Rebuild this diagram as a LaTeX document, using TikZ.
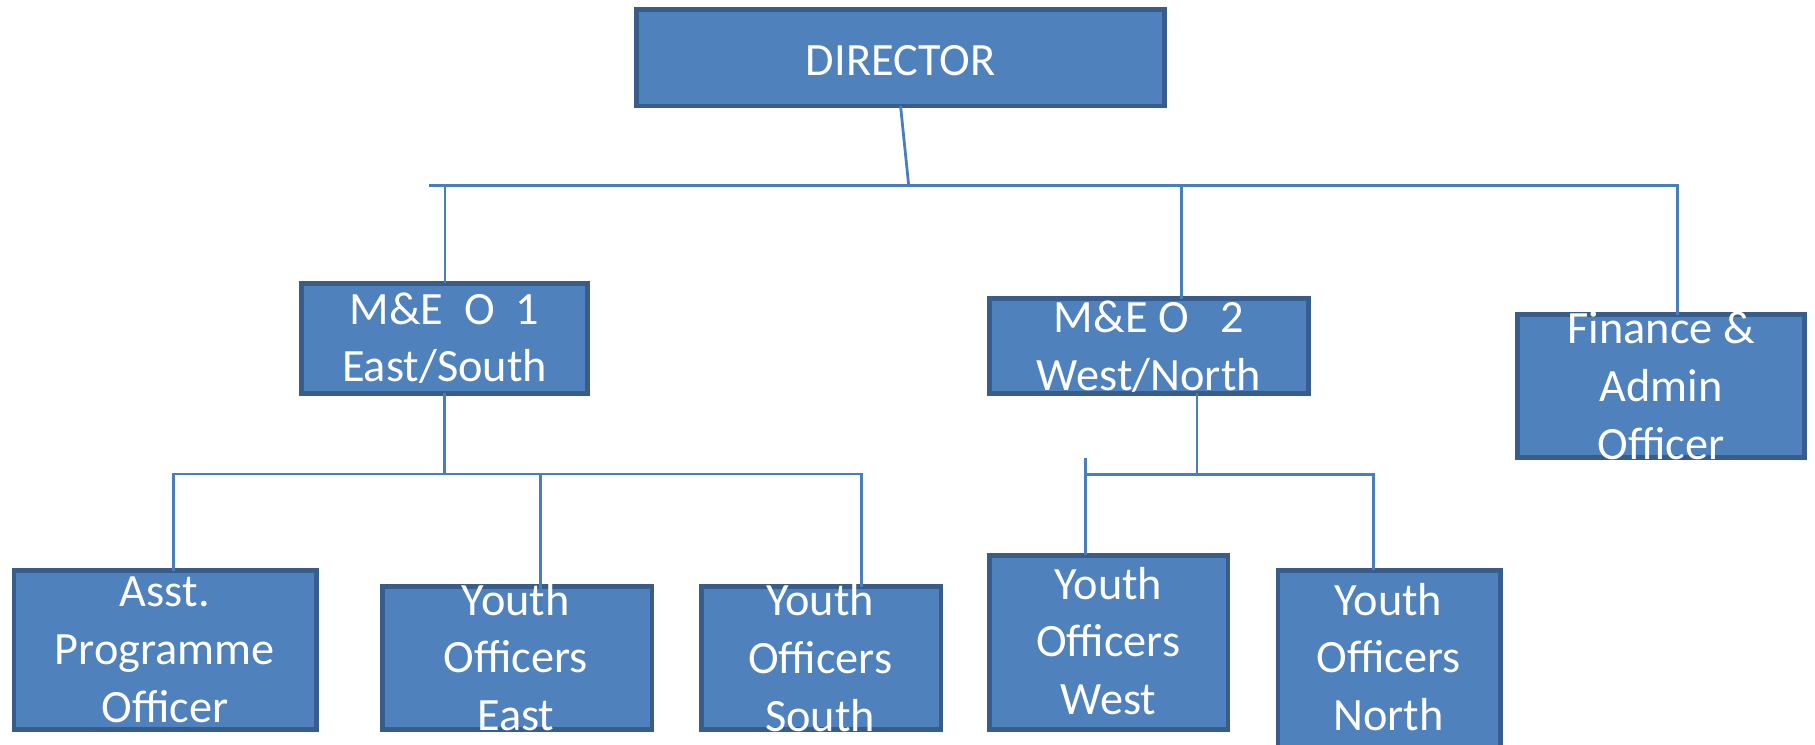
\documentclass[tikz,border=0pt]{standalone}
\usepackage{fontspec}
\setmainfont{Carlito}
\definecolor{boxfill}{HTML}{4F81BD}
\definecolor{boxline}{HTML}{385D8A}
\definecolor{connc}{HTML}{4A7EBB}
\newcommand{\ml}[1]{\begin{tabular}[t]{@{}c@{}}#1\end{tabular}}
\begin{document}
\begin{tikzpicture}[x=1pt,y=-1pt,
  box/.style={draw=boxline, fill=boxfill, line width=4.2pt, inner sep=0pt, outer sep=0pt},
  txt/.style={text=white, inner sep=0pt, outer sep=0pt, anchor=base, font=\fontsize{40}{50}\selectfont},
  conn/.style={draw=connc, line width=2.4pt}]
\useasboundingbox (0,0) rectangle (1568,643);

% boxes
\node[box, minimum width=455.8pt, minimum height=83.1pt] (dir) at (778,50) {};
\node[box, minimum width=247.8pt, minimum height=95.3pt] (me1) at (384,292.25) {};
\node[box, minimum width=275.3pt, minimum height=81.8pt] (me2) at (992.75,299) {};
\node[box, minimum width=247.8pt, minimum height=123.2pt] (fin) at (1435,333.3) {};
\node[box, minimum width=261.1pt, minimum height=136.8pt] (asst) at (142.65,561.5) {};
\node[box, minimum width=233.2pt, minimum height=123.3pt] (ye) at (446.7,568.25) {};
\node[box, minimum width=206.8pt, minimum height=123.1pt] (ys) at (709.5,568.35) {};
\node[box, minimum width=205.8pt, minimum height=150.3pt] (yw) at (958,554.75) {};
\node[box, minimum width=192.4pt, minimum height=160.5pt] (yn) at (1200.3,573) {};

% connector points
\coordinate (busD) at (785,160);
\coordinate (busL) at (371,160);
\coordinate (busR) at (1449,160);
\coordinate (b1) at (384.5,160);
\coordinate (b2) at (1021,160);
\coordinate (bus2L) at (149.8,409.5);
\coordinate (bus2R) at (744.4,409.5);
\coordinate (c2) at (467,409.5);
\coordinate (c2e) at (467,531);
\coordinate (d0) at (1034,409.6);
\coordinate (d1top) at (937.5,395.7);
\coordinate (bus3L) at (937.5,409.6);
\coordinate (bus3R) at (1186.3,409.6);

% connectors
\draw[conn] (dir.south) -- (busD);
\draw[conn] (busL) -- (busR) -- (busR |- fin.north);
\draw[conn] (b1) -- (b1 |- me1.north);
\draw[conn] (b2) -- (b2 |- me2.north);
\draw[conn] (me1.south) -- (me1.south |- bus2L);
\draw[conn] (bus2L |- asst.north) -- (bus2L) -- (bus2R) -- (bus2R |- ys.north);
\draw[conn] (c2) -- (c2e);
\draw[conn] (me2.south -| d0) -- (d0);
\draw[conn] (d1top) -- (d1top |- yw.north);
\draw[conn] (bus3L) -- (bus3R) -- (bus3R |- yn.north);

% texts
\node[txt] (dir-t) at (778,64.8) {DIRECTOR};
\node[txt] (me1-t) at (384,280) {\ml{M\&E~~O~~1\\East/South}};
\node[txt] (me2-t) at (992.5,287.4) {\ml{M\&E O~~~2\\West/North}};
\node[txt] (fin-t) at (1435,296.6) {\ml{Finance \&\\Admin\\Officer}};
\node[txt] (asst-t) at (142.4,524) {\ml{Asst.\\Programme\\Officer}};
\node[txt] (ye-t) at (445.6,531.3) {\ml{Youth\\Officers\\East}};
\node[txt] (ys-t) at (708.5,532) {\ml{Youth\\Officers\\South}};
\node[txt] (yw-t) at (957.5,517.5) {\ml{Youth\\Officers\\West}};
\node[txt] (yn-t) at (1199.5,531.3) {\ml{Youth\\Officers\\North}};
\end{tikzpicture}
\end{document}
